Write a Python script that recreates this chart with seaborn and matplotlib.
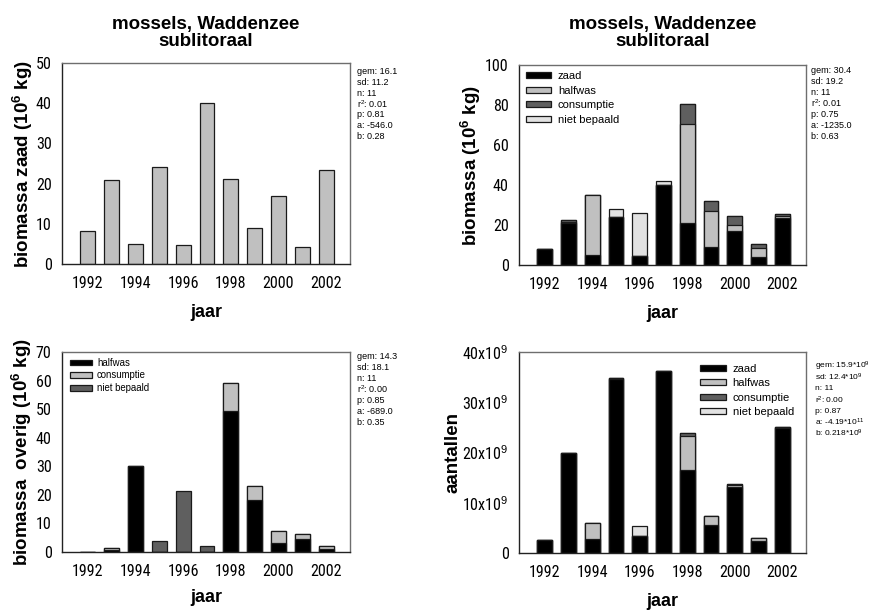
import os
import numpy as np
import matplotlib
matplotlib.use("Agg")
import matplotlib.pyplot as plt
from matplotlib import font_manager
from matplotlib.font_manager import FontProperties
from matplotlib.patches import Patch
import seaborn as sns

# ---- data -------------------------------------------------------------
years = [1992, 1993, 1994, 1995, 1996, 1997, 1998, 1999, 2000, 2001, 2002]

# biomass (10^6 kg) per size class
zaad_biomassa = [8.2, 21.0, 5.0, 24.1, 4.7, 40.0, 21.1, 9.0, 17.0, 4.2, 23.4]
halfwas_biomassa = [0.0, 0.7, 30.2, 0.0, 0.0, 0.0, 49.5, 18.2, 3.0, 4.5, 1.0]
consumptie_biomassa = [0.0, 0.6, 0.0, 0.0, 0.0, 0.0, 9.7, 4.8, 4.5, 1.7, 1.2]
nietbepaald_biomassa = [0.0, 0.0, 0.0, 3.8, 21.5, 2.0, 0.0, 0.0, 0.0, 0.0, 0.0]

# numbers (x 10^9) per size class
zaad_aantal = [2.5, 19.9, 2.7, 34.6, 3.3, 36.2, 16.5, 5.5, 13.2, 2.3, 24.8]
halfwas_aantal = [0.0, 0.0, 3.2, 0.2, 0.0, 0.0, 6.8, 1.9, 0.3, 0.6, 0.2]
consumptie_aantal = [0.0, 0.0, 0.0, 0.0, 0.0, 0.0, 0.6, 0.0, 0.3, 0.0, 0.0]
nietbepaald_aantal = [0.0, 0.0, 0.0, 0.0, 2.0, 0.0, 0.0, 0.0, 0.0, 0.0, 0.0]

klassen = ["zaad", "halfwas", "consumptie", "niet bepaald"]
klassen_overig = ["halfwas", "consumptie", "niet bepaald"]

year_ticks = [1992, 1994, 1996, 1998, 2000, 2002]
aantal_ticks = [0, 10, 20, 30, 40]
aantal_ticklabels = ["0", r"10x10$^9$", r"20x10$^9$", r"30x10$^9$", r"40x10$^9$"]

stats_zaad = ["gem: 16.1", "sd: 11.2", "n: 11", r"r$^2$: 0.01", "p: 0.81", "a: -546.0", "b: 0.28"]
stats_totaal = ["gem: 30.4", "sd: 19.2", "n: 11", r"r$^2$: 0.01", "p: 0.75", "a: -1235.0", "b: 0.63"]
stats_overig = ["gem: 14.3", "sd: 18.1", "n: 11", r"r$^2$: 0.00", "p: 0.85", "a: -689.0", "b: 0.35"]
stats_aantal = [r"gem: 15.9*10$^9$", r"sd: 12.4*10$^9$", "n: 11", r"r$^2$: 0.00",
                "p: 0.87", r"a: -4.19*10$^{11}$", r"b: 0.218*10$^9$"]

titel = "mossels, Waddenzee\nsublitoraal"

# ---- style ------------------------------------------------------------
sns.set_style("white")
plt.rcParams["font.family"] = ["Liberation Sans", "DejaVu Sans"]
plt.rcParams["mathtext.fontset"] = "custom"
plt.rcParams["mathtext.rm"] = "Liberation Sans"
plt.rcParams["mathtext.it"] = "Liberation Sans:italic"
plt.rcParams["mathtext.bf"] = "Liberation Sans:bold"
for key in ("text.color", "axes.labelcolor", "xtick.color", "ytick.color"):
    plt.rcParams[key] = "black"


def narrow_font():
    """Pick a condensed regular face for the tick labels, if one is installed."""
    wanted = ["liberationsansnarrow-regular", "robotocondensed-regular",
              "notosans-condensed.", "notosans-condensed-regular", "opensans_condensed-regular",
              "opensans-condensed", "dejavusanscondensed."]
    files = [f.fname for f in font_manager.fontManager.ttflist]
    for key in wanted:
        for path in files:
            if key in os.path.basename(path).lower():
                return FontProperties(fname=path), True
    return FontProperties(family="Liberation Sans"), False


TICKFONT, IS_NARROW = narrow_font()
TICKSIZE = 11.5 if IS_NARROW else 10.0

BLACK = "#000000"
LIGHT = "#c0c0c0"
DARK = "#5f5f5f"
PALE = "#e2e2e2"
EDGE = "#1a1a1a"

W, H = 875, 612
fig = plt.figure(figsize=(W / 100, H / 100), dpi=100)


def px_axes(left, top, right, bottom):
    return fig.add_axes([left / W, 1 - bottom / H, (right - left) / W, (bottom - top) / H])


def stacked(ax, layers, colors):
    tops = np.cumsum(np.array(layers, dtype=float), axis=0)
    for top, color in zip(tops[::-1], colors[::-1]):
        sns.barplot(x=years, y=top, native_scale=True, width=0.62, color=color,
                    saturation=1, edgecolor=EDGE, linewidth=0.9, errorbar=None, ax=ax)


def style(ax, ymax, ystep, ylabel, ylab_x, xlab_y, yticklabels=None):
    ax.set_xlim(1990.92, 2003.0)
    ax.set_ylim(0, ymax)
    fp = TICKFONT.copy()
    fp.set_size(TICKSIZE)
    ax.set_xticks(year_ticks, [str(y) for y in year_ticks], fontproperties=fp)
    yt = list(np.arange(0, ymax + 0.1, ystep))
    labels = yticklabels if yticklabels is not None else [f"{v:g}" for v in yt]
    ax.set_yticks(yt, labels, fontproperties=fp)
    ax.tick_params(direction="out", length=3.5, width=0.8, color="#222222", pad=4)
    ax.tick_params(axis="x", pad=5)
    for side in ("left", "bottom"):
        ax.spines[side].set_color("#222222")
        ax.spines[side].set_linewidth(1.0)
    for side in ("top", "right"):
        ax.spines[side].set_visible(True)
        ax.spines[side].set_color("#6e6e6e")
        ax.spines[side].set_linewidth(1.0)
    ax.set_ylabel(ylabel, fontsize=13.5, fontweight="bold")
    ax.set_xlabel("jaar", fontsize=13, fontweight="bold")
    ax.yaxis.set_label_coords(ylab_x, 0.5)
    ax.yaxis.label.set_va("center")
    ax.xaxis.set_label_coords(0.5, xlab_y)
    ax.xaxis.label.set_va("center")


def stats(x, y0, lines, step, size=6.5):
    for i, line in enumerate(lines):
        fig.text(x / W, 1 - (y0 + i * step) / H, line, fontsize=size, ha="left", va="center")


def legend(ax, labels, colors, anchor, fontsize, hl, tp, ls):
    handles = [Patch(facecolor=c, edgecolor=EDGE, linewidth=0.9, label=l) for l, c in zip(labels, colors)]
    ax.legend(handles=handles, loc="upper left", bbox_to_anchor=anchor, frameon=False,
              fontsize=fontsize, handlelength=hl, handleheight=0.45, handletextpad=tp,
              labelspacing=ls, borderpad=0, borderaxespad=0)


# ---- panel 1: zaad biomassa -------------------------------------------
ax1 = px_axes(62, 63, 350, 264)
sns.barplot(x=years, y=zaad_biomassa, native_scale=True, width=0.62, color=LIGHT,
            saturation=1, edgecolor=EDGE, linewidth=0.9, errorbar=None, ax=ax1)
style(ax1, 50, 10, r"biomassa zaad (10$^{\mathbf{6}}$ kg)", -0.134, -0.242)
ax1.text(0.5, 1.149, titel, transform=ax1.transAxes, ha="center", va="center",
         fontsize=13.5, fontweight="bold", linespacing=0.95)
stats(357, 71.7, stats_zaad, 10.8)

# ---- panel 2: totale biomassa -----------------------------------------
ax2 = px_axes(519, 65, 806, 265)
stacked(ax2, [zaad_biomassa, halfwas_biomassa, consumptie_biomassa, nietbepaald_biomassa],
        [BLACK, LIGHT, DARK, PALE])
style(ax2, 100, 20, r"biomassa (10$^{\mathbf{6}}$ kg)", -0.166, -0.24)
ax2.text(0.5, 1.16, titel, transform=ax2.transAxes, ha="center", va="center",
         fontsize=13.5, fontweight="bold", linespacing=0.95)
legend(ax2, klassen, [BLACK, LIGHT, DARK, PALE], (0.026, 0.97), 8, 2.2, 0.62, 0.42)
stats(810.7, 70.7, stats_totaal, 10.9)

# ---- panel 3: overige biomassa ----------------------------------------
ax3 = px_axes(62, 352, 350, 552)
stacked(ax3, [halfwas_biomassa, consumptie_biomassa, nietbepaald_biomassa], [BLACK, LIGHT, DARK])
style(ax3, 70, 10, r"biomassa  overig (10$^{\mathbf{6}}$ kg)", -0.138, -0.23)
legend(ax3, klassen_overig, [BLACK, LIGHT, DARK], (0.028, 0.972), 6.9, 2.3, 0.5, 0.3)
stats(357, 356.7, stats_overig, 10.9)

# ---- panel 4: aantallen -----------------------------------------------
ax4 = px_axes(519, 352, 806, 553)
stacked(ax4, [zaad_aantal, halfwas_aantal, consumptie_aantal, nietbepaald_aantal],
        [BLACK, LIGHT, DARK, PALE])
style(ax4, 40, 10, "aantallen", -0.23, -0.242, yticklabels=aantal_ticklabels)
legend(ax4, klassen, [BLACK, LIGHT, DARK, PALE], (0.63, 0.94), 8, 2.4, 0.55, 0.38)
stats(815, 366.5, stats_aantal, 11.2, size=6.0)

fig.savefig("out.png", dpi=100)
